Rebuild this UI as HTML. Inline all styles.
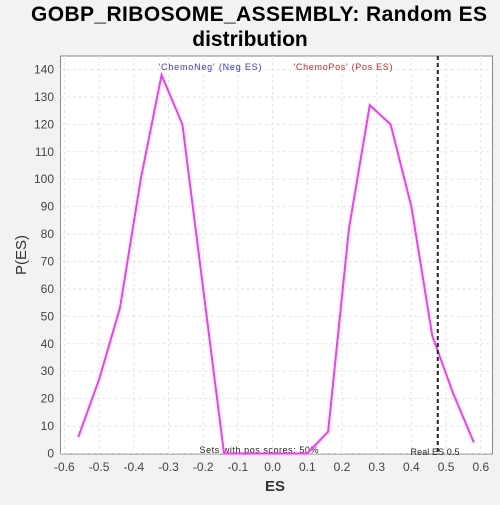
<!DOCTYPE html>
<html><head><meta charset="utf-8"><style>
body{margin:0;background:#f2f2f2;width:500px;height:500px;overflow:hidden;font-family:"Liberation Sans",sans-serif}
</style></head><body>
<svg width="500" height="500" id="c">
<text x="259" y="21" text-anchor="middle" font-size="21" font-weight="bold" textLength="456">GOBP_RIBOSOME_ASSEMBLY: Random ES</text>
<text x="250" y="46" text-anchor="middle" font-size="21" font-weight="bold">distribution</text>
<rect x="60.5" y="56" width="432" height="398" fill="#fff" stroke="#888"/>
<g id="grid"></g><g id="ticks"></g>
<text x="275" y="491" text-anchor="middle" font-size="15" font-weight="bold" fill="#333">ES</text>
<text x="26" y="255" text-anchor="middle" font-size="15" fill="#333" transform="rotate(-90 26 255)">P(ES)</text>
<text x="210" y="70" text-anchor="middle" font-size="9" textLength="103" fill="#3333ff">'ChemoNeg' (Neg ES)</text>
<text x="343" y="70" text-anchor="middle" font-size="9" textLength="99" fill="#dd2222">'ChemoPos' (Pos ES)</text>
<text x="259" y="453" text-anchor="middle" font-size="9" textLength="119" fill="#222">Sets with pos scores: 50%</text>
<text x="435" y="455" text-anchor="middle" font-size="9" textLength="49" fill="#222">Real ES 0.5</text>
<g id="marks"></g>
</svg>
<script>
const esValues=[-0.56,-0.5,-0.44,-0.38,-0.32,-0.26,-0.2,-0.14,-0.08,-0.02,0.04,0.1,0.16,0.22,0.28,0.34,0.4,0.46,0.52,0.58];
const pValues=[6,27,53,100,138,120,60,0,0,0,0,0,8,82,127,120,90,43,22,4];
const xTicks=[-0.6,-0.5,-0.4,-0.3,-0.2,-0.1,0.0,0.1,0.2,0.3,0.4,0.5,0.6];
const yTicks=[0,10,20,30,40,50,60,70,80,90,100,110,120,130,140];
const realES=[0.476];
const X=v=>272.6+v*347, Y=v=>453.5-v*2.743;
const ns="http://www.w3.org/2000/svg";
const mk=(t,a,p)=>{const e=document.createElementNS(ns,t);for(const k in a)e.setAttribute(k,a[k]);document.getElementById(p).appendChild(e);return e;};
xTicks.forEach(v=>{
 const g=mk('line',{x1:X(v),x2:X(v),y1:56,y2:454,stroke:'#e4e4e4','stroke-dasharray':'3,3'},'grid');
 
 
 const t=mk('text',{x:X(v),y:471,'text-anchor':'middle','font-size':12,fill:'#444'},'ticks');
 t.textContent=v.toFixed(1);
 
 
});
yTicks.forEach(v=>{
 const g=mk('line',{x1:60.5,x2:492.5,y1:Y(v),y2:Y(v),stroke:'#e4e4e4','stroke-dasharray':'3,3'},'grid');
 
 
 const t=mk('text',{x:54,y:Y(v)+4,'text-anchor':'end','font-size':12,fill:'#444'},'ticks');
 t.textContent=v;
 
 
});
const l=mk('polyline',{points:esValues.map((v,i)=>X(v)+','+Y(pValues[i])).join(' '),fill:'none',stroke:'#ff33ff','stroke-width':2},'marks');


realES.forEach(v=>{
 const r=mk('line',{x1:X(v),x2:X(v),y1:56,y2:454,stroke:'#222','stroke-width':2,'stroke-dasharray':'4,3'},'marks');
 
 
});
</script>
</body></html>
